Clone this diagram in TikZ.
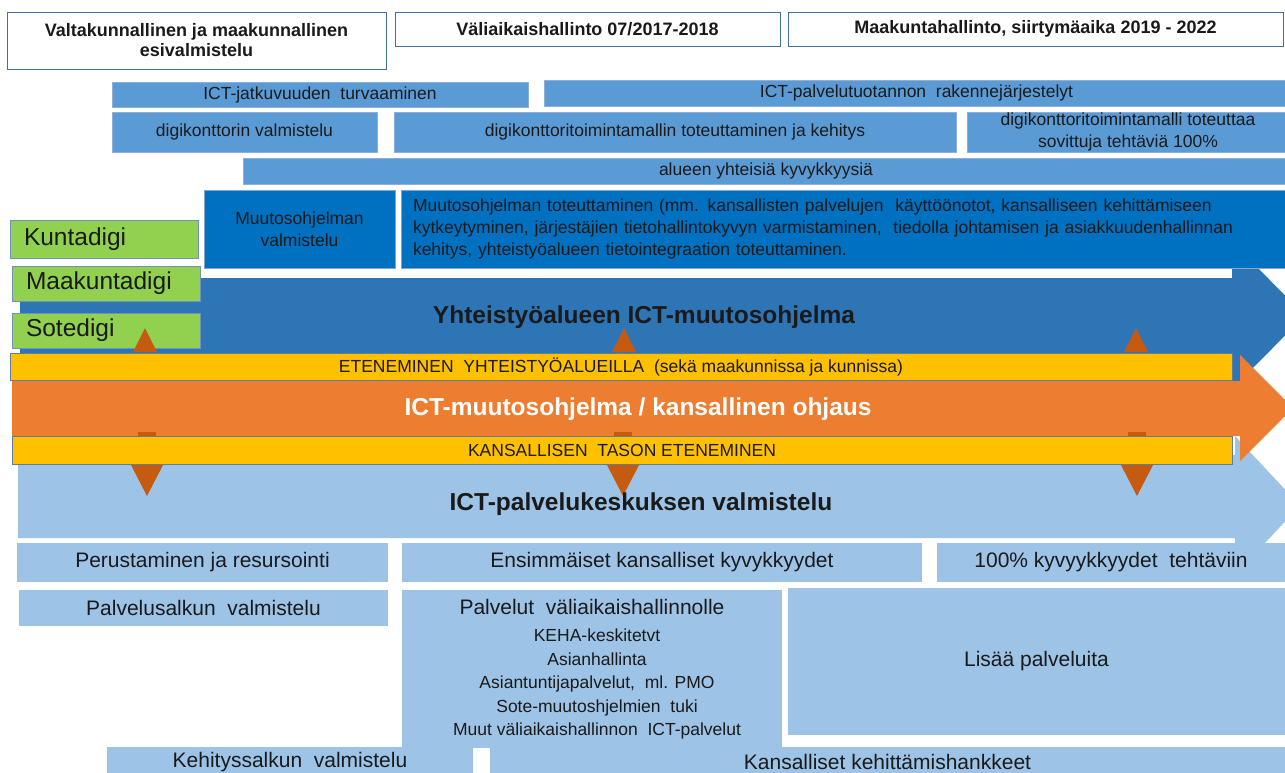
\documentclass[tikz,border=0pt]{standalone}
\usepackage{fontspec}
\setmainfont{Liberation Sans}
\definecolor{txt}{HTML}{1A1A1A}
\definecolor{hdrline}{HTML}{41719C}
\definecolor{mblue}{HTML}{5B9BD5}
\definecolor{mline}{HTML}{8FAFD6}
\definecolor{dblue}{HTML}{0070C0}
\definecolor{dline}{HTML}{7FA7D0}
\definecolor{ablue}{HTML}{2E75B6}
\definecolor{orng}{HTML}{ED7D31}
\definecolor{yel}{HTML}{FFC000}
\definecolor{yline}{HTML}{5E7E9E}
\definecolor{trired}{HTML}{C55A11}
\definecolor{grn}{HTML}{92D050}
\definecolor{gline}{HTML}{6F93BA}
\definecolor{lblue}{HTML}{9DC3E6}
\tikzset{
  base/.style={inner sep=0pt, outer sep=0pt, anchor=north west, align=center, text=txt},
  hdr/.style={base, draw=hdrline, line width=1pt, fill=white, font=\bfseries\fontsize{18}{20}\selectfont},
  mbar/.style={base, draw=mline, line width=0.8pt, fill=mblue, font=\fontsize{17.5}{21}\selectfont},
  dbox/.style={base, draw=dline, line width=0.8pt, fill=dblue, font=\fontsize{17.5}{22}\selectfont},
  gbox/.style={base, draw=gline, line width=0.8pt, fill=grn, text width=160pt, inner xsep=14pt, align=left, font=\fontsize{24.5}{28}\selectfont},
  ybar/.style={base, draw=yline, line width=0.8pt, fill=yel, font=\fontsize{17.5}{20}\selectfont},
  lbox/.style={base, fill=lblue, font=\fontsize{21}{24}\selectfont},
  title/.style={inner sep=0pt, font=\bfseries\fontsize{24.5}{28}\selectfont, text=txt},
  plain/.style={inner sep=0pt, text=txt, align=center},
}
\begin{document}
\begin{tikzpicture}[x=1pt,y=-1pt]
\useasboundingbox (0,0) rectangle (1285,772);
\clip (0,0) rectangle (1285,772);
\fill[white] (0,0) rectangle (1285,772);

% headers
\node[hdr, minimum width=379pt, minimum height=57pt] (h1) at (7,12) {Valtakunnallinen ja maakunnallinen\\esivalmistelu};
\node[hdr, minimum width=385pt, minimum height=34pt] (h2) at (395,12) {Väliaikaishallinto 07/2017-2018};
\node[hdr, minimum width=495pt, minimum height=34pt] (h3) at (788,12) {Maakuntahallinto, siirtymäaika 2019 - 2022};

% medium blue bars
\node[mbar, minimum width=416pt, minimum height=25pt] (b1) at (112,82) {ICT-jatkuvuuden\ \ turvaaminen};
\node[mbar, minimum width=745pt, minimum height=26pt] (b2) at (544,80) {ICT-palvelutuotannon\ \ rakennejärjestelyt};
\node[mbar, minimum width=265pt, minimum height=40pt] (b3) at (112,112) {digikonttorin valmistelu};
\node[mbar, minimum width=562pt, minimum height=40pt] (b4) at (394,112) {digikonttoritoimintamallin toteuttaminen ja kehitys};
\node[mbar, minimum width=322pt, minimum height=40pt, font=\fontsize{17.5}{22}\selectfont] (b5) at (967,112) {digikonttoritoimintamalli toteuttaa\\sovittuja tehtäviä 100\%};
\node[mbar, minimum width=1046pt, minimum height=26pt] (b6) at (243,158) {alueen yhteisiä kyvykkyysiä};

% blue arrow
\fill[ablue] (20,278) -- (1232,278) -- (1232,242) -- (1305,315.5) -- (1232,389) -- (1232,353) -- (20,353) -- cycle;

% dark blue boxes
\node[dbox, minimum width=191pt, minimum height=78pt] (d1) at (204,190) {Muutosohjelman\\valmistelu};
\node[dbox, text width=864pt, inner xsep=12pt, align=left, minimum height=78pt] (d2) at (401,190) {Muutosohjelman toteuttaminen (mm. kansallisten palvelujen\ \ käyttöönotot, kansalliseen kehittämiseen\\kytkeytyminen, järjestäjien tietohallintokyvyn varmistaminen,\ \ tiedolla johtamisen ja asiakkuudenhallinnan\\kehitys, yhteistyöalueen tietointegraation toteuttaminen.};

% light blue arrow
\fill[lblue] (18,455) -- (1235,455) -- (1235,436) -- (1300,505.5) -- (1235,575) -- (1235,538) -- (18,538) -- cycle;

% orange arrow
\fill[orng] (12,381) -- (1240,381) -- (1240,355) -- (1293,408) -- (1240,461) -- (1240,436) -- (12,436) -- cycle;

% downward triangles and their stubs
\foreach \c in {147,623,1137}{
  \fill[trired] (\c-9,432) rectangle (\c+9,436);
  \fill[trired] (\c-16,465) -- (\c+16,465) -- (\c,496) -- cycle;
}

% yellow bars
\node[ybar, minimum width=1222pt, minimum height=27pt] (y1) at (10,353) {ETENEMINEN\ \ YHTEISTYÖALUEILLA\ \ (sekä maakunnissa ja kunnissa)};
\node[ybar, minimum width=1220pt, minimum height=28pt] (y2) at (12,436) {KANSALLISEN\ \ TASON ETENEMINEN};

% green boxes
\node[gbox, minimum height=38pt] (g1) at (10,220) {Kuntadigi};
\node[gbox, minimum height=35pt] (g2) at (12,266) {Maakuntadigi};
\node[gbox, minimum height=35pt] (g3) at (12,313) {Sotedigi};

% upward triangles
\foreach \c in {145,624,1136}{
  \fill[trired] (\c-12,352) -- (\c+12,352) -- (\c,328) -- cycle;
}

% titles
\node[title] (t1) at (644,317) {Yhteistyöalueen ICT-muutosohjelma};
\node[title, text=white] (t2) at (638,409) {ICT-muutosohjelma / kansallinen ohjaus};
\node[title] (t3) at (641,504) {ICT-palvelukeskuksen valmistelu};

% bottom boxes
\node[lbox, minimum width=371pt, minimum height=39pt] (p1) at (17,543) {Perustaminen ja resursointi};
\node[lbox, minimum width=520pt, minimum height=39pt] (p2) at (402,543) {Ensimmäiset kansalliset kyvykkyydet};
\node[lbox, minimum width=348pt, minimum height=39pt] (p3) at (937,543) {100\% kyvyykkyydet\ \ tehtäviin};
\node[lbox, minimum width=369pt, minimum height=36pt] (p4) at (19,590) {Palvelusalkun\ \ valmistelu};
\node[lbox, minimum width=380pt, minimum height=158pt] (p5) at (402,590) {};
\node[lbox, minimum width=497pt, minimum height=147pt] (p6) at (788,588) {Lisää palveluita};
\node[lbox, minimum width=366pt, minimum height=30pt] (p7) at (107,747) {Kehityssalkun\ \ valmistelu};
\node[lbox, minimum width=795pt, minimum height=30pt] (p8) at (490,747) {Kansalliset kehittämishankkeet};
\node[plain, font=\fontsize{21}{24}\selectfont] (p5t) at (592,607) {Palvelut\ \ väliaikaishallinnolle};
\node[plain, font=\fontsize{17.5}{23.5}\selectfont] (p5l) at (597,684) {KEHA-keskitetvt\\Asianhallinta\\Asiantuntijapalvelut,\ \ ml. PMO\\Sote-muutoshjelmien\ \ tuki\\Muut väliaikaishallinnon\ \ ICT-palvelut};
\end{tikzpicture}
\end{document}
